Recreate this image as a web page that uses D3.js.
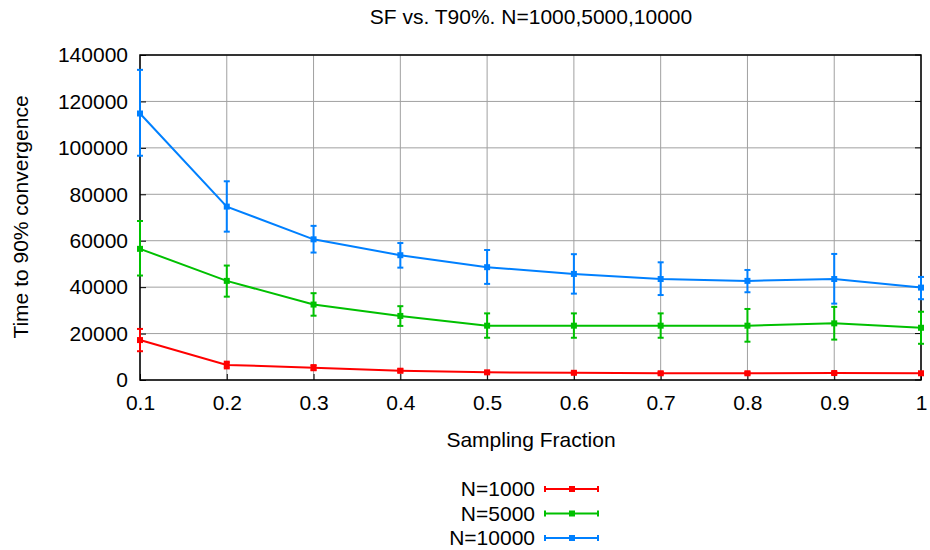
<!DOCTYPE html>
<html>
<head>
<meta charset="utf-8">
<script src="https://cdn.jsdelivr.net/npm/d3@7/dist/d3.min.js"></script>
<style>
  body { margin: 0; background: #fff; }
  text { font-family: "Liberation Sans", Arial, sans-serif; fill: #000; }
</style>
</head>
<body>
<div id="chart"></div>
<script>
// sampling fraction
const fractions = [0.1, 0.2, 0.3, 0.4, 0.5, 0.6, 0.7, 0.8, 0.9, 1.0];

// N=1000
const n1000Mean = [17200, 6500, 5300, 4000, 3300, 3100, 2900, 2900, 3000, 2900];
const n1000Low  = [12400, 5000, 4200, 3300, 2800, 2600, 2400, 2400, 2500, 2400];
const n1000High = [22000, 7900, 6400, 4700, 3800, 3600, 3400, 3400, 3500, 3400];

// N=5000
const n5000Mean = [56500, 42700, 32500, 27600, 23400, 23400, 23400, 23400, 24400, 22500];
const n5000Low  = [45000, 35900, 27700, 23300, 18200, 18200, 18200, 16500, 17400, 15600];
const n5000High = [68500, 49300, 37400, 31800, 28700, 28700, 28700, 30600, 31500, 29400];

// N=10000
const n10000Mean = [114800, 74700, 60600, 53750, 48600, 45700, 43500, 42700, 43500, 39800];
const n10000Low  = [96600, 63900, 54900, 48400, 41400, 37200, 36600, 37800, 32900, 34800];
const n10000High = [133600, 85600, 66400, 59000, 56000, 54200, 50700, 47400, 54300, 44400];

const yTicks = [0, 20000, 40000, 60000, 80000, 100000, 120000, 140000];
const xTicks = [0.1, 0.2, 0.3, 0.4, 0.5, 0.6, 0.7, 0.8, 0.9, 1];

const series = [
    { name: 'N=1000', color: '#ff0000', mean: n1000Mean, low: n1000Low, high: n1000High },
    { name: 'N=5000', color: '#00c000', mean: n5000Mean, low: n5000Low, high: n5000High },
    { name: 'N=10000', color: '#0080ff', mean: n10000Mean, low: n10000Low, high: n10000High }
];

const width = 930, height = 550;
const margin = { top: 55, right: 9, bottom: 170, left: 140 };
const chartWidth = width - margin.left - margin.right;
const chartHeight = height - margin.top - margin.bottom;
const fontSize = '21px';

const svg = d3.select('#chart').append('svg')
    .attr('width', width)
    .attr('height', height);

const g = svg.append('g')
    .attr('transform', `translate(${margin.left},${margin.top})`);

const xScale = d3.scaleLinear().domain([0.1, 1]).range([0, chartWidth]);
const yScale = d3.scaleLinear().domain([0, 140000]).range([chartHeight, 0]);

// Grid
g.append('g')
    .selectAll('line')
    .data(xTicks)
    .enter().append('line')
    .attr('x1', d => xScale(d)).attr('x2', d => xScale(d))
    .attr('y1', 0).attr('y2', chartHeight)
    .attr('stroke', '#a0a0a0').attr('stroke-width', 1);

g.append('g')
    .selectAll('line')
    .data(yTicks)
    .enter().append('line')
    .attr('x1', 0).attr('x2', chartWidth)
    .attr('y1', d => yScale(d)).attr('y2', d => yScale(d))
    .attr('stroke', '#a0a0a0').attr('stroke-width', 1);

// Axes (tick labels)
const xAxis = g.append('g')
    .attr('transform', `translate(0,${chartHeight})`)
    .call(d3.axisBottom(xScale).tickValues(xTicks).tickSize(-6).tickPadding(15).tickFormat(d3.format('')));
xAxis.select('.domain').remove();
xAxis.selectAll('text').attr('font-size', fontSize).attr('dy', '0.71em');
xAxis.selectAll('line').attr('stroke', '#000');

const yAxis = g.append('g')
    .call(d3.axisLeft(yScale).tickValues(yTicks).tickSize(-6).tickPadding(12).tickFormat(d3.format('d')));
yAxis.select('.domain').remove();
yAxis.selectAll('text').attr('font-size', fontSize);
yAxis.selectAll('line').attr('stroke', '#000');

// Right-side ticks
g.append('g')
    .selectAll('line')
    .data(yTicks)
    .enter().append('line')
    .attr('x1', chartWidth).attr('x2', chartWidth - 6)
    .attr('y1', d => yScale(d)).attr('y2', d => yScale(d))
    .attr('stroke', '#000');

// Frame
g.append('rect')
    .attr('x', 0).attr('y', 0)
    .attr('width', chartWidth).attr('height', chartHeight)
    .attr('fill', 'none').attr('stroke', '#000').attr('stroke-width', 1.5);

// Series
const line = d3.line()
    .x((d, i) => xScale(fractions[i]))
    .y(d => yScale(d));

series.forEach(s => {
    g.append('path')
        .datum(s.mean)
        .attr('d', line)
        .attr('fill', 'none')
        .attr('stroke', s.color)
        .attr('stroke-width', 2);

    const eb = g.append('g').attr('stroke', s.color).attr('stroke-width', 2);
    fractions.forEach((f, i) => {
        const x = xScale(f);
        eb.append('line')
            .attr('x1', x).attr('x2', x)
            .attr('y1', yScale(s.low[i])).attr('y2', yScale(s.high[i]));
        eb.append('line')
            .attr('x1', x - 3).attr('x2', x + 3)
            .attr('y1', yScale(s.low[i])).attr('y2', yScale(s.low[i]));
        eb.append('line')
            .attr('x1', x - 3).attr('x2', x + 3)
            .attr('y1', yScale(s.high[i])).attr('y2', yScale(s.high[i]));
    });

    g.append('g')
        .selectAll('rect')
        .data(s.mean)
        .enter().append('rect')
        .attr('x', (d, i) => xScale(fractions[i]) - 3)
        .attr('y', d => yScale(d) - 3)
        .attr('width', 6).attr('height', 6)
        .attr('fill', s.color);
});

// Title and axis labels
svg.append('text')
    .attr('x', 531).attr('y', 24)
    .attr('text-anchor', 'middle')
    .attr('font-size', fontSize)
    .text('SF vs. T90%. N=1000,5000,10000');

svg.append('text')
    .attr('x', 531).attr('y', 447)
    .attr('text-anchor', 'middle')
    .attr('font-size', fontSize)
    .text('Sampling Fraction');

svg.append('text')
    .attr('transform', 'rotate(-90)')
    .attr('x', -217).attr('y', 28)
    .attr('text-anchor', 'middle')
    .attr('font-size', fontSize)
    .text('Time to 90% convergence');

// Legend
const legend = svg.append('g');
series.forEach((s, i) => {
    const y = 489 + i * 24.5;
    legend.append('text')
        .attr('x', 535).attr('y', y)
        .attr('dy', '0.35em')
        .attr('text-anchor', 'end')
        .attr('font-size', fontSize)
        .text(s.name);
    legend.append('line')
        .attr('x1', 545).attr('x2', 598)
        .attr('y1', y).attr('y2', y)
        .attr('stroke', s.color).attr('stroke-width', 2);
    [545, 598].forEach(x => legend.append('line')
        .attr('x1', x).attr('x2', x)
        .attr('y1', y - 3).attr('y2', y + 3)
        .attr('stroke', s.color).attr('stroke-width', 2));
    legend.append('rect')
        .attr('x', 569).attr('y', y - 3)
        .attr('width', 6).attr('height', 6)
        .attr('fill', s.color);
});
</script>
</body>
</html>
